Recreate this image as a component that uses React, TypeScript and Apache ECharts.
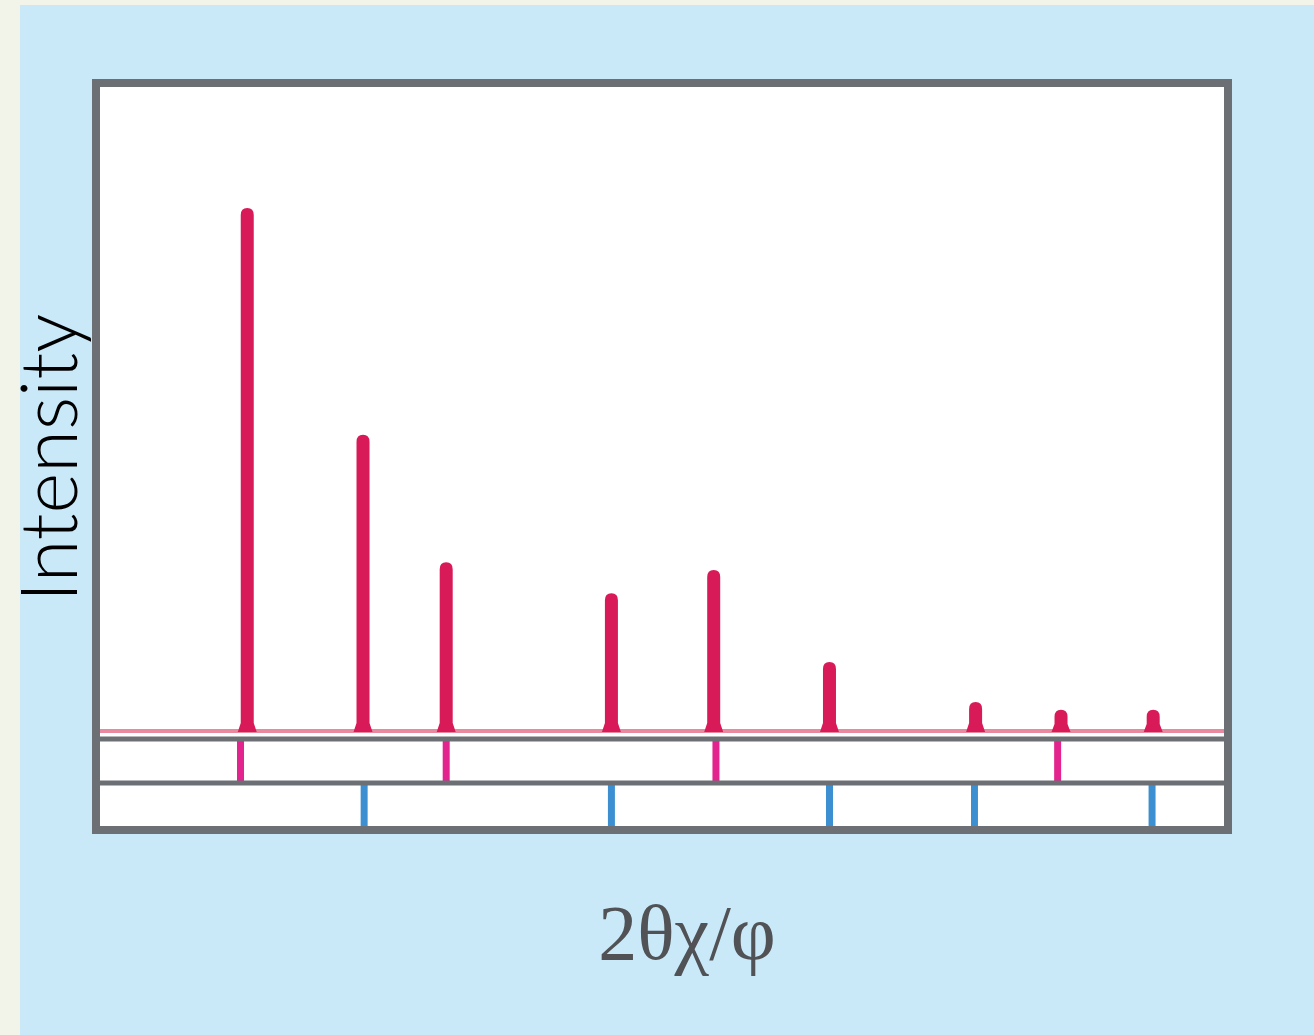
import React, { useEffect, useRef } from "react";
import * as echarts from "echarts";

// 2θ positions (0..100 scale across the plot) and relative intensities of measured peaks
const peakPositions = [13.1, 23.4, 30.8, 45.5, 54.6, 64.9, 77.9, 85.5, 93.7];
const peakIntensities = [81.2, 46.0, 26.2, 21.4, 25.0, 10.7, 4.5, 3.3, 3.3];
// reference reflection positions for phase A (pink) and phase B (blue)
const phaseAPositions = [12.5, 30.8, 54.8, 85.2];
const phaseBPositions = [23.5, 45.5, 64.9, 77.8, 93.6];
const baselineX = [0, 100];

const xLabel = "2θχ/φ";
const yLabel = "Intensity";

export default function App() {
  const ref = useRef<HTMLDivElement>(null);
  useEffect(() => {
    if (!ref.current) return;
    const chart = echarts.init(ref.current, undefined, { renderer: "svg" });

    const peakData = peakPositions.map((x, i) => [x, peakIntensities[i]]);
    const tickA = phaseAPositions.map((x) => [x, 1]);
    const tickB = phaseBPositions.map((x) => [x, 1]);

    const tickRender = (color: string, half: number) => (params: any, api: any) => {
      const x = api.value(0);
      const top = api.coord([x, 1]);
      const bot = api.coord([x, 0]);
      return {
        type: "rect",
        shape: { x: top[0] - half, y: top[1], width: half * 2, height: bot[1] - top[1] },
        style: { fill: color },
      };
    };

    const frameX = 96, frameY = 83, frameR = 1228, frameB = 830;
    const gray = "#6c7075";

    chart.setOption({
      animation: false,
      backgroundColor: "#f3f4e9",
      grid: [
        { left: 100, width: 1124, top: 87, height: 644 },
        { left: 100, width: 1124, top: 740, height: 44 },
        { left: 100, width: 1124, top: 783, height: 45 },
      ],
      xAxis: [0, 1, 2].map((i) => ({ type: "value", gridIndex: i, min: 0, max: 100, show: false })),
      yAxis: [
        { type: "value", gridIndex: 0, min: 0, max: 100, show: false },
        { type: "value", gridIndex: 1, min: 0, max: 1, show: false },
        { type: "value", gridIndex: 2, min: 0, max: 1, show: false },
      ],
      graphic: [
        { type: "rect", z: -10, shape: { x: 20, y: 5, width: 1300, height: 1040 }, style: { fill: "#c9e9f9" } },
        { type: "rect", z: -5, shape: { x: frameX, y: frameY, width: frameR - frameX, height: frameB - frameY }, style: { fill: "#ffffff" } },
        { type: "rect", z: 100, shape: { x: frameX, y: frameY, width: frameR - frameX, height: frameB - frameY }, style: { fill: "none", stroke: gray, lineWidth: 8 } },
        { type: "line", z: 100, shape: { x1: frameX, y1: 739, x2: frameR, y2: 739 }, style: { stroke: gray, lineWidth: 5 } },
        { type: "line", z: 100, shape: { x1: frameX, y1: 783, x2: frameR, y2: 783 }, style: { stroke: gray, lineWidth: 5 } },
        {
          type: "text", z: 100, x: 47, y: 458, rotation: Math.PI / 2,
          style: { text: yLabel, fill: "#000000", fontSize: 78, fontFamily: "Lato", fontWeight: 300, align: "center", verticalAlign: "middle" },
        },
        {
          type: "text", z: 100, x: 687, y: 932,
          style: { text: xLabel, fill: "#505255", fontSize: 78, fontFamily: "Liberation Serif", align: "center", verticalAlign: "middle" },
        },
      ],
      series: [
        {
          type: "line",
          xAxisIndex: 0, yAxisIndex: 0,
          data: baselineX.map((x) => [x, 0]),
          symbol: "none",
          lineStyle: { color: "#e8899f", width: 4 },
          z: 2,
        },
        {
          type: "custom",
          xAxisIndex: 0, yAxisIndex: 0,
          data: peakData,
          z: 3,
          renderItem: (params: any, api: any) => {
            const x = api.value(0);
            const b = api.coord([x, 0]);
            const t = api.coord([x, api.value(1)]);
            const cx = b[0], by = b[1], ty = t[1];
            const hw = 6.5, bw = 9.5;
            const flare = Math.min(8, (by - ty) / 3);
            const cap = Math.min(7, (by - ty) / 3);
            const d = `M${cx - bw},${by + 1} L${cx - hw},${by - flare} L${cx - hw},${ty + cap} Q${cx - hw},${ty} ${cx},${ty} Q${cx + hw},${ty} ${cx + hw},${ty + cap} L${cx + hw},${by - flare} L${cx + bw},${by + 1} Z`;
            return { type: "path", shape: { pathData: d }, style: { fill: "#d81a58" } };
          },
        },
        {
          type: "custom",
          xAxisIndex: 1, yAxisIndex: 1,
          data: tickA,
          renderItem: tickRender("#e3248e", 3.5),
        },
        {
          type: "custom",
          xAxisIndex: 2, yAxisIndex: 2,
          data: tickB,
          renderItem: tickRender("#3c90d2", 3.5),
        },
      ],
    });
    return () => chart.dispose();
  }, []);
  return <div ref={ref} style={{ position: "absolute", left: 0, top: 0, width: 1314, height: 1035 }} />;
}
